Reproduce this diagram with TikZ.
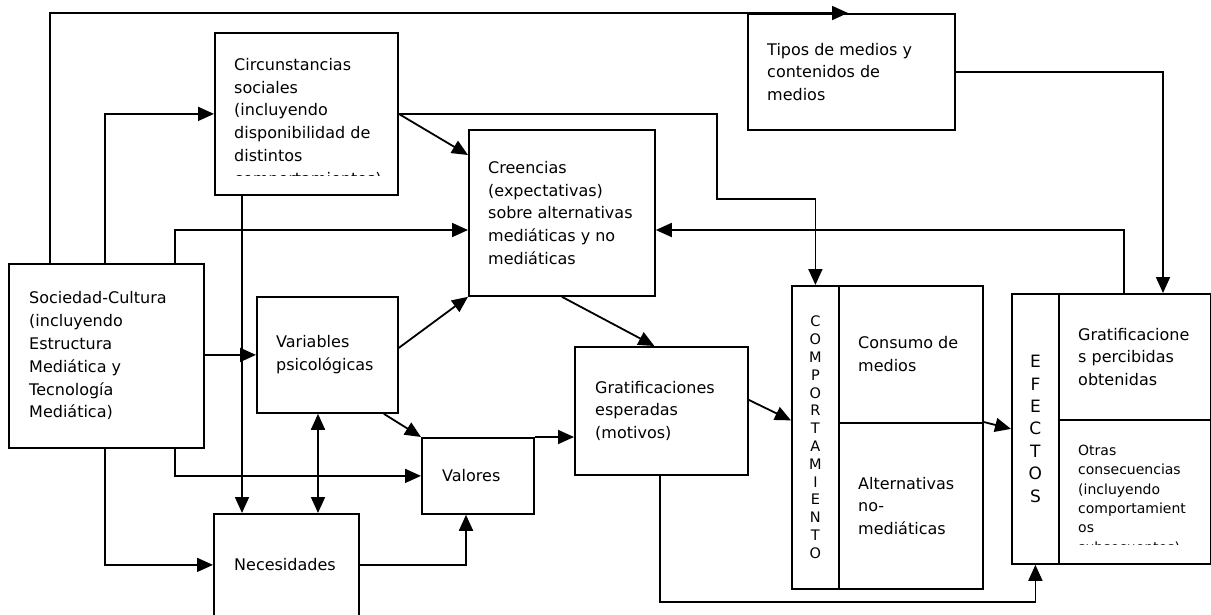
\documentclass[tikz,border=0pt]{standalone}
\usepackage{fontspec}
\setmainfont{DejaVu Sans}
\usetikzlibrary{arrows.meta}

\begin{document}
\begin{tikzpicture}[x=1pt,y=-1pt,
  caja/.style={draw,line width=1.8pt,anchor=north west,inner sep=0pt},
  texto/.style={anchor=west,align=left,inner sep=0pt,font=\fontsize{16}{22.8}\selectfont},
  chico/.style={anchor=north west,align=left,inner sep=0pt,font=\fontsize{14}{19.3}\selectfont},
  vertical/.style={align=center,inner sep=0pt},
  flecha/.style={line width=1.8pt,-{Triangle[length=\al,width=\aw]}},
  doble/.style={line width=1.8pt,{Triangle[length=\al,width=\aw]}-{Triangle[length=\al,width=\aw]}}]
\def\al{16pt}
\def\aw{14pt}
\useasboundingbox (0,0) rectangle (1211,614);

% cajas
\node [caja, minimum width=195pt, minimum height=184pt, name=soc]   at (8,263) {};
\node [caja, minimum width=183pt, minimum height=162pt, name=circ]  at (214,32) {};
\node [caja, minimum width=207pt, minimum height=116pt, name=tipos] at (747,13) {};
\node [caja, minimum width=186pt, minimum height=166pt, name=cre]   at (468,129) {};
\node [caja, minimum width=141pt, minimum height=116pt, name=var]   at (256,296) {};
\node [caja, minimum width=112pt, minimum height=76pt,  name=val]   at (421,437) {};
\node [caja, minimum width=145pt, minimum height=102pt, name=nec]   at (213,513) {};
\node [caja, minimum width=173pt, minimum height=128pt, name=gesp]  at (574,346) {};
\node [caja, minimum width=47pt,  minimum height=303pt, name=comp]  at (791,285) {};
\node [caja, minimum width=144pt, minimum height=137pt, name=cons]  at (838,285) {};
\node [caja, minimum width=144pt, minimum height=166pt, name=alt]   at (838,422) {};
\node [caja, minimum width=47pt,  minimum height=270pt, name=efe]   at (1011,293) {};
\node [caja, minimum width=152pt, minimum height=126pt, name=gper]  at (1058,293) {};
\node [caja, minimum width=152pt, minimum height=144pt, name=otras] at (1058,419) {};

% textos
\node [texto, name=soct]   at ([xshift=21pt]soc.west) {Sociedad-Cultura\\(incluyendo\\Estructura\\Mediática y\\Tecnología\\Mediática)};
\begin{scope}
\clip (circ.north west) rectangle ([yshift=20pt]circ.south east);
\node [texto, anchor=north west, name=circt] at ([xshift=20pt,yshift=-26pt]circ.north west) {Circunstancias\\sociales\\(incluyendo\\disponibilidad de\\distintos\\comportamientos)};
\end{scope}
\node [texto, name=tipost] at ([xshift=20pt]tipos.west) {Tipos de medios y\\contenidos de\\medios};
\node [texto, name=cret]   at ([xshift=20pt]cre.west) {Creencias\\(expectativas)\\sobre alternativas\\mediáticas y no\\mediáticas};
\node [texto, name=vart]   at ([xshift=20pt]var.west) {Variables\\psicológicas};
\node [texto, name=valt]   at ([xshift=21pt]val.west) {Valores};
\node [texto, name=nect]   at ([xshift=21pt]nec.west) {Necesidades};
\node [texto, name=gespt]  at ([xshift=21pt]gesp.west) {Gratificaciones\\esperadas\\(motivos)};
\node [texto, name=const]  at ([xshift=20pt]cons.west) {Consumo de\\medios};
\node [texto, name=altt]   at ([xshift=20pt]alt.west) {Alternativas\\no-\\mediáticas};
\node [texto, name=gpert]  at ([xshift=20pt]gper.west) {Gratificacione\\s percibidas\\obtenidas};
\begin{scope}
\clip (otras.north west) rectangle ([yshift=20pt]otras.south east);
\node [chico, name=otrast] at ([xshift=20pt,yshift=-26pt]otras.north west) {Otras\\consecuencias\\(incluyendo\\comportamient\\os\\subsecuentes)};
\end{scope}
\node [vertical, font=\fontsize{14.5}{17.8}\selectfont, name=compt] at (comp.center) {C\\O\\M\\P\\O\\R\\T\\A\\M\\I\\E\\N\\T\\O};
\node [vertical, font=\fontsize{17}{22.4}\selectfont, name=efet] at (efe.center) {E\\F\\E\\C\\T\\O\\S};

% puntos de quiebre
\coordinate (k1) at (50,13);
\coordinate (t1) at (848,13);
\coordinate (k2) at (105,113);
\coordinate (k3) at (175,230);
\coordinate (k5) at (242,0);
\coordinate (k6) at (318,0);
\coordinate (k7) at (466,0);
\coordinate (k8) at (717,199);
\coordinate (k9) at (1163,0);
\coordinate (k10) at (1124,230);
\coordinate (k11) at (660,602);

% flechas
\draw [flecha](soc.north -| k1) -- (k1) -- (t1);
\draw [flecha](soc.north -| k2) |- (circ.west);
\draw [flecha](soc.north -| k3) -- (k3) -- (cre.west |- k3);
\draw [flecha](soc.east |- var.west) -- (var.west);
\draw [flecha](soc.south -| k2) |- (nec.west);
\draw [flecha](soc.south -| k3) |- (val.west);
\draw [flecha](circ.south -| k5) -- (nec.north -| k5);
\draw [doble](var.south -| k6) -- (nec.north -| k6);
\draw [flecha]([xshift=-15pt]var.south east) -- (val.north west);
\draw [flecha](val.north east) -- (gesp.west |- val.north east);
\draw [flecha](nec.east) -| (val.south -| k7);
\draw [flecha]([yshift=7pt]var.east) -- (cre.south west);
\draw [flecha](circ.east) -- ([yshift=-26pt]cre.north west);
\draw [flecha](circ.east) -| (k8) -| (comp.north);
\draw [flecha](tipos.east) -| (gper.north -| k9);
\draw [flecha](gper.north -| k10) -- (k10) -- (cre.east |- k10);
\draw [flecha]([yshift=11pt]gesp.east) -- ([yshift=17pt]comp.west);
\draw [flecha](alt.north east) -- (efe.west);
\draw [flecha](gesp.south -| k11) -- (k11) -| (efe.south);
\draw [flecha](cre.south) -- ([xshift=-7pt]gesp.north);
\end{tikzpicture}
\end{document}
